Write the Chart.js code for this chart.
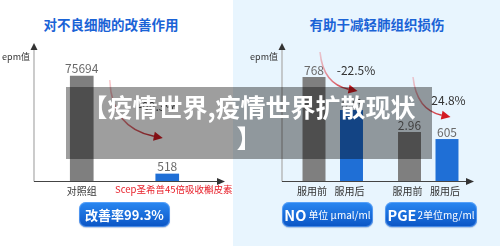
<!DOCTYPE html>
<html><head><meta charset="utf-8">
<script src="https://cdn.jsdelivr.net/npm/chart.js@4/dist/chart.umd.min.js"></script>
<style>
html,body{margin:0;padding:0;width:500px;height:246px;overflow:hidden;background:#fff;font-family:"Noto Sans CJK SC","Noto Sans",sans-serif;}
#rightBg{position:absolute;left:233px;top:0;width:267px;height:246px;background:#e8f5fe;}
.title{position:absolute;top:15px;height:18px;line-height:18px;font-size:13.5px;font-weight:700;color:#1a63d6;text-align:center;white-space:nowrap;}
.wrap{position:absolute;top:0;height:246px;}
.btn{position:absolute;top:202px;height:25px;border-radius:7px;background:linear-gradient(#2a88f2,#0a54c4);box-shadow:inset 0 0 0 1px rgba(120,180,255,0.55),0 1px 1px rgba(0,60,150,0.25);color:#fff;display:flex;align-items:center;justify-content:center;white-space:nowrap;}
#overlay{position:absolute;left:66px;top:87px;width:366px;height:72px;background:rgba(0,0,0,0.38);color:#fff;font-weight:700;font-size:25px;line-height:31px;text-align:center;padding-top:4px;box-sizing:border-box;}
</style></head>
<body>
<div id="rightBg"></div>
<div class="title" style="left:0;width:222px;">对不良细胞的改善作用</div>
<div class="title" style="left:277px;width:200px;">有助于减轻肺组织损伤</div>
<div class="wrap" style="left:0;width:233px;"><canvas id="left" width="233" height="246"></canvas></div>
<div class="wrap" style="left:233px;width:267px;"><canvas id="right" width="267" height="246"></canvas></div>
<div class="btn" style="left:79px;width:91px;font-size:13px;font-weight:700;">改善率99.3%</div>
<div class="btn" style="left:282px;width:91px;"><span style="font-size:14.5px;font-weight:700;">NO</span><span style="font-size:10px;margin-left:2px;">单位 μmal/ml</span></div>
<div class="btn" style="left:385px;width:92px;"><span style="font-size:14.5px;font-weight:700;">PGE</span><span style="font-size:10px;margin-left:1px;">2单位mg/ml</span></div>
<div id="overlay">【疫情世界,疫情世界扩散现状<br>】</div>
<script>
// ---- data ----
const yAxisName = 'epm值';
const leftCategories = ['对照组', 'Scep圣希普45倍吸收槲皮素'];
const leftValueLabels = ['75694', '518'];
// drawn bar heights, in % of the axis length (the source infographic is not to scale)
const leftBarHeights = [76.1, 5.1];
const leftChange = '-99.3%';

const rightGroups = ['NO', 'PGE2'];
const rightSeries = ['服用前', '服用后'];
const rightBeforeLabels = ['768', '2.96'];
const rightAfterLabels = ['595', '605'];
const rightBeforeHeights = [75.4, 35.5];
const rightAfterHeights = [51.4, 30.4];
const rightChanges = ['-22.5%', '24.8%'];

const FONT = '"Noto Sans CJK SC","Noto Sans",sans-serif';
const GRAY = '#7f7f7f', BLUE = '#1f6fd6';

function drawAxes(chart, yGap, xExtra) {
  const ctx = chart.ctx, ca = chart.chartArea;
  const x0 = ca.left - yGap, yb = ca.bottom + 0.5;
  ctx.save();
  ctx.strokeStyle = '#b0b0b0'; ctx.lineWidth = 1.3;
  ctx.beginPath(); ctx.moveTo(x0, yb); ctx.lineTo(x0, ca.top + 5); ctx.stroke();
  ctx.fillStyle = '#333';
  ctx.beginPath(); ctx.moveTo(x0, ca.top); ctx.lineTo(x0 - 3.5, ca.top + 7); ctx.lineTo(x0 + 3.5, ca.top + 7); ctx.closePath(); ctx.fill();
  const xe = ca.right + xExtra;
  ctx.strokeStyle = '#444'; ctx.lineWidth = 1.2;
  ctx.beginPath(); ctx.moveTo(x0, yb); ctx.lineTo(xe - 5, yb); ctx.stroke();
  ctx.beginPath(); ctx.moveTo(xe, yb); ctx.lineTo(xe - 8, yb - 3.5); ctx.lineTo(xe - 8, yb + 3.5); ctx.closePath(); ctx.fill();
  ctx.font = '9px ' + FONT; ctx.fillStyle = '#333'; ctx.textAlign = 'right'; ctx.textBaseline = 'middle';
  ctx.fillText(yAxisName, x0 - 4, 57);
  ctx.restore();
}
function curvedArrow(ctx, sx, sy, cx, cy, ex, ey) {
  ctx.save();
  const g = ctx.createLinearGradient(sx, sy, ex, ey);
  g.addColorStop(0, 'rgba(236,110,120,0.35)');
  g.addColorStop(1, '#c8161d');
  const ang = Math.atan2(ey - cy, ex - cx);
  const bx = ex - 9 * Math.cos(ang), by = ey - 9 * Math.sin(ang);
  ctx.strokeStyle = g; ctx.lineWidth = 1.6;
  ctx.beginPath(); ctx.moveTo(sx, sy); ctx.quadraticCurveTo(cx, cy, bx, by); ctx.stroke();
  ctx.fillStyle = '#d41a22';
  ctx.beginPath(); ctx.moveTo(ex, ey);
  ctx.lineTo(bx + 4.5 * Math.sin(ang), by - 4.5 * Math.cos(ang));
  ctx.lineTo(bx - 4.5 * Math.sin(ang), by + 4.5 * Math.cos(ang));
  ctx.closePath(); ctx.fill();
  ctx.restore();
}
function text(ctx, s, x, y, font, color, align) {
  ctx.font = font; ctx.fillStyle = color; ctx.textAlign = align || 'center'; ctx.textBaseline = 'middle';
  ctx.fillText(s, x, y);
}

const leftPlugin = {
  id: 'leftDeco',
  afterDatasetsDraw(chart) {
    const ctx = chart.ctx, ca = chart.chartArea;
    drawAxes(chart, 5, 15);
    const bars = chart.getDatasetMeta(0).data;
    ctx.save();
    bars.forEach((b, i) => {
      text(ctx, leftValueLabels[i], b.x, b.y - 7.5, '12px ' + FONT, '#6a6a6a');
      if (i === 0) text(ctx, leftCategories[i], b.x, ca.bottom + 10, '10px ' + FONT, '#333');
      else text(ctx, leftCategories[i], b.x + 6.5, ca.bottom + 8.5, '9.5px ' + FONT, '#e8202a');
    });
    curvedArrow(ctx, bars[0].x + 28, 80, bars[0].x + 30, 128, bars[1].x - 4.5, 138);
    text(ctx, leftChange, bars[1].x - 10, 106, '12px ' + FONT, '#333');
    ctx.restore();
  }
};

new Chart(document.getElementById('left'), {
  type: 'bar',
  data: {
    labels: leftCategories,
    datasets: [{ data: leftBarHeights, backgroundColor: [GRAY, BLUE], barThickness: 23 }]
  },
  options: {
    responsive: false, animation: false,
    layout: { padding: { left: 39, right: 23, top: 43, bottom: 65 } },
    plugins: { legend: { display: false }, tooltip: { enabled: false } },
    scales: { x: { display: false }, y: { display: false, min: 0, max: 100 } }
  },
  plugins: [leftPlugin]
});

const rightPlugin = {
  id: 'rightDeco',
  afterDatasetsDraw(chart) {
    const ctx = chart.ctx, ca = chart.chartArea;
    drawAxes(chart, 3, -2);
    const before = chart.getDatasetMeta(0).data, after = chart.getDatasetMeta(1).data;
    ctx.save();
    [before, after].forEach((bars, d) => {
      const labels = d === 0 ? rightBeforeLabels : rightAfterLabels;
      bars.forEach((b, i) => {
        text(ctx, labels[i], b.x, b.y - 6.5, '12px ' + FONT, '#6a6a6a');
        text(ctx, rightSeries[d], b.x - 2, ca.bottom + 10, '10px ' + FONT, '#333');
      });
    });
    curvedArrow(ctx, before[0].x + 6, 52, before[0].x + 9, 84, after[0].x + 6, 91);
    text(ctx, rightChanges[0], after[0].x + 4.5, 70, '12px ' + FONT, '#333');
    curvedArrow(ctx, before[1].x + 3.5, 77, before[1].x + 7, 110, after[1].x + 3.5, 117);
    text(ctx, rightChanges[1], after[1].x + 1.5, 100, '12px ' + FONT, '#333');
    ctx.restore();
  }
};

new Chart(document.getElementById('right'), {
  type: 'bar',
  data: {
    labels: rightGroups,
    datasets: [
      { label: rightSeries[0], data: rightBeforeHeights, backgroundColor: GRAY },
      { label: rightSeries[1], data: rightAfterHeights, backgroundColor: BLUE }
    ]
  },
  options: {
    responsive: false, animation: false,
    categoryPercentage: 0.785, barPercentage: 0.613,
    layout: { padding: { left: 52, right: 24, top: 43, bottom: 65 } },
    plugins: { legend: { display: false }, tooltip: { enabled: false } },
    scales: { x: { display: false }, y: { display: false, min: 0, max: 100 } }
  },
  plugins: [rightPlugin]
});
</script>
</body></html>
